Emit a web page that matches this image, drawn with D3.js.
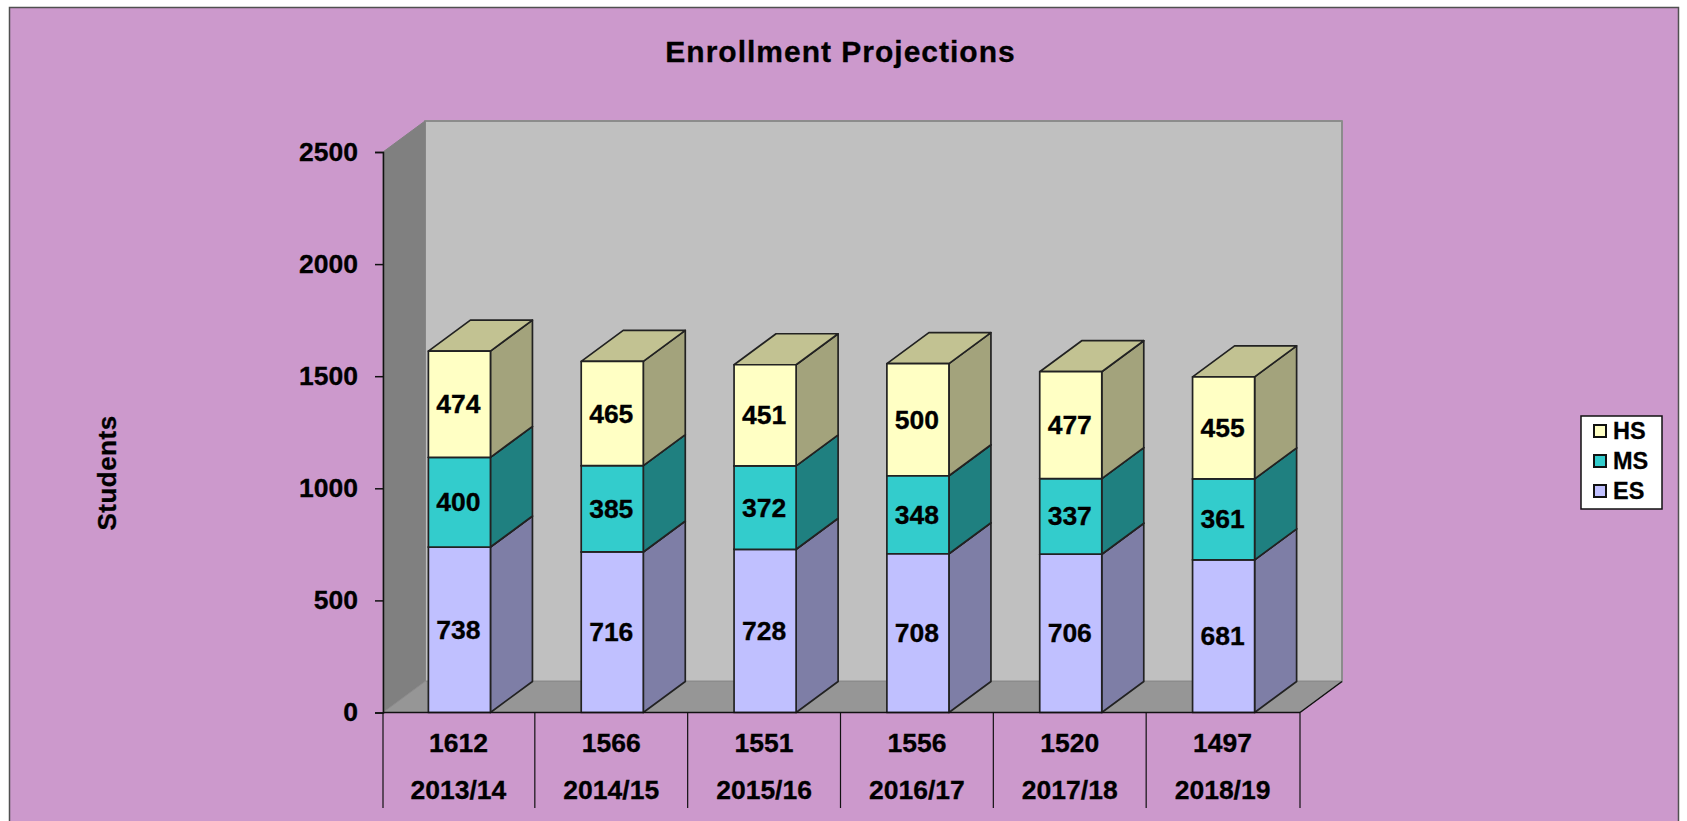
<!DOCTYPE html>
<html>
<head>
<meta charset="utf-8">
<title>Enrollment Projections</title>
<script src="https://cdnjs.cloudflare.com/ajax/libs/d3/7.8.5/d3.min.js"></script>
<style>
html, body { margin: 0; padding: 0; background: #fff; overflow: hidden; }
svg { display: block; }
text { font-family: "Liberation Sans", Arial, sans-serif; font-weight: bold; fill: #000; stroke: #000; stroke-width: 0.3px; }
</style>
</head>
<body>
<svg></svg>
<script>
var years = ['2013/14', '2014/15', '2015/16', '2016/17', '2017/18', '2018/19'];
var totals = [1612, 1566, 1551, 1556, 1520, 1497];
var es = [738, 716, 728, 708, 706, 681];
var ms = [400, 385, 372, 348, 337, 361];
var hs = [474, 465, 451, 500, 477, 455];
var yTicks = [0, 500, 1000, 1500, 2000, 2500];
var seriesNames = ['ES', 'MS', 'HS'];
var legendNames = ['HS', 'MS', 'ES'];

var frontColor = {ES: '#C0C0FF', MS: '#33CCCC', HS: '#FFFFC4'};
var sideColor = {ES: '#7E7EA6', MS: '#1F8080', HS: '#A3A37C'};
var topColor = {ES: '#9C9CCC', MS: '#29A3A3', HS: '#C2C292'};

var width = 1687;
var height = 821;
var depthX = 42;
var depthY = 31;
var labelSize = '26.5px';

var svg = d3.select('svg').attr('width', width).attr('height', height);

// chart area with its dark frame, runs off the bottom of the page
svg.append('rect')
  .attr('x', 9.5)
  .attr('y', 7.5)
  .attr('width', 1669)
  .attr('height', height + 20)
  .attr('fill', '#CC99CC')
  .attr('stroke', '#505050')
  .attr('stroke-width', 1.5);

svg.append('text')
  .attr('x', 840.5)
  .attr('y', 61.5)
  .attr('text-anchor', 'middle')
  .style('font-size', '30px')
  .style('letter-spacing', '1px')
  .text('Enrollment Projections');

svg.append('text')
  .attr('transform', 'translate(116,473) rotate(-90)')
  .attr('text-anchor', 'middle')
  .style('font-size', '26px')
  .style('letter-spacing', '0.5px')
  .text('Students');

var x = d3.scaleBand()
  .domain(years)
  .range([383, 1300])
  .paddingInner(0.594)
  .paddingOuter(0.297);

var y = d3.scaleLinear()
  .domain([0, 2500])
  .range([712.5, 152]);

var x0 = x.range()[0];
var x1 = x.range()[1];
var y0 = y(0);
var yTop = y(2500);

function poly(points, fill, stroke, strokeWidth) {
  return svg.append('polygon')
    .attr('points', points.map(function (p) {return p.join(',');}).join(' '))
    .attr('fill', fill)
    .attr('stroke', stroke)
    .attr('stroke-width', strokeWidth)
    .attr('stroke-linejoin', 'round');
}

// back wall, side wall, floor
poly([[x0 + depthX, yTop - depthY], [x1 + depthX, yTop - depthY], [x1 + depthX, y0 - depthY], [x0 + depthX, y0 - depthY]], '#C0C0C0', '#8C8C8C', 2);
poly([[x0, yTop], [x0 + depthX, yTop - depthY], [x0 + depthX, y0 - depthY], [x0, y0]], '#808080', '#808080', 1);
poly([[x0, y0], [x0 + depthX, y0 - depthY], [x1 + depthX, y0 - depthY], [x1, y0]], '#969696', '#8C8C8C', 1);
svg.append('line')
  .attr('x1', x1)
  .attr('y1', y0)
  .attr('x2', x1 + depthX)
  .attr('y2', y0 - depthY)
  .attr('stroke', '#111')
  .attr('stroke-width', 1.5);

// stacked boxes
var stack = d3.stack().keys(seriesNames)(years.map(function (d, i) {
  return {year: d, ES: es[i], MS: ms[i], HS: hs[i]};
}));

years.forEach(function (year, i) {
  var left = x(year);
  var right = left + x.bandwidth();
  stack.forEach(function (layer) {
    var name = layer.key;
    var bottom = y(layer[i][0]);
    var top = y(layer[i][1]);
    poly([[right, bottom], [right + depthX, bottom - depthY], [right + depthX, top - depthY], [right, top]], sideColor[name], '#222', 1.7);
    poly([[left, top], [left + depthX, top - depthY], [right + depthX, top - depthY], [right, top]], topColor[name], '#222', 1.7);
    poly([[left, bottom], [right, bottom], [right, top], [left, top]], frontColor[name], '#222', 1.7);
  });
});

// value labels on top of all the boxes
stack.forEach(function (layer) {
  svg.selectAll('.label-' + layer.key)
    .data(layer)
    .enter()
    .append('text')
    .attr('class', 'label-' + layer.key)
    .attr('x', function (d) {return x(d.data.year) + x.bandwidth() / 2 - 1;})
    .attr('y', function (d) {return y((d[0] + d[1]) / 2);})
    .attr('text-anchor', 'middle')
    .attr('dominant-baseline', 'central')
    .style('font-size', labelSize)
    .text(function (d) {return d[1] - d[0];});
});

// value axis
var yAxis = d3.axisLeft(y).tickValues(yTicks).tickSize(8).tickPadding(17).tickFormat(d3.format('d'));
var yAxisG = svg.append('g').attr('transform', 'translate(' + x0 + ',0)').call(yAxis);
yAxisG.selectAll('line').attr('stroke', '#111').attr('stroke-width', 1.5);
yAxisG.select('.domain').attr('stroke', '#111').attr('stroke-width', 1.5);
yAxisG.selectAll('text').style('font-size', labelSize);

// category axis with the two rows of labels below it
svg.append('line')
  .attr('x1', x0)
  .attr('y1', y0)
  .attr('x2', x1)
  .attr('y2', y0)
  .attr('stroke', '#111')
  .attr('stroke-width', 1.7);

var step = x.step();
var dividers = years.map(function (d, i) {
  return x(d) - (step - x.bandwidth()) / 2 - (i > 0 ? 1 : 0);
});
dividers.push(x1);
svg.selectAll('.divider')
  .data(dividers)
  .enter()
  .append('line')
  .attr('class', 'divider')
  .attr('x1', function (d) {return d;})
  .attr('x2', function (d) {return d;})
  .attr('y1', y0)
  .attr('y2', 808)
  .attr('stroke', '#111')
  .attr('stroke-width', 1.2);

svg.selectAll('.total')
  .data(totals)
  .enter()
  .append('text')
  .attr('class', 'total')
  .attr('x', function (d, i) {return x(years[i]) + x.bandwidth() / 2 - 1;})
  .attr('y', 743)
  .attr('text-anchor', 'middle')
  .attr('dominant-baseline', 'central')
  .style('font-size', labelSize)
  .text(function (d) {return d;});

svg.selectAll('.year')
  .data(years)
  .enter()
  .append('text')
  .attr('class', 'year')
  .attr('x', function (d) {return x(d) + x.bandwidth() / 2 - 1;})
  .attr('y', 790)
  .attr('text-anchor', 'middle')
  .attr('dominant-baseline', 'central')
  .style('font-size', labelSize)
  .text(function (d) {return d;});

// legend
svg.append('rect')
  .attr('x', 1581)
  .attr('y', 416)
  .attr('width', 81)
  .attr('height', 93)
  .attr('fill', '#fff')
  .attr('stroke', '#111')
  .attr('stroke-width', 1.5);

var legendY = d3.scalePoint().domain(legendNames).range([431, 491]);

svg.selectAll('.swatch')
  .data(legendNames)
  .enter()
  .append('rect')
  .attr('class', 'swatch')
  .attr('x', 1594)
  .attr('y', function (d) {return legendY(d) - 6;})
  .attr('width', 12)
  .attr('height', 12)
  .attr('fill', function (d) {return frontColor[d];})
  .attr('stroke', '#111')
  .attr('stroke-width', 2);

svg.selectAll('.legend-label')
  .data(legendNames)
  .enter()
  .append('text')
  .attr('class', 'legend-label')
  .attr('x', 1613)
  .attr('y', function (d) {return legendY(d);})
  .attr('dominant-baseline', 'central')
  .style('font-size', '23.5px')
  .text(function (d) {return d;});
</script>
</body>
</html>
